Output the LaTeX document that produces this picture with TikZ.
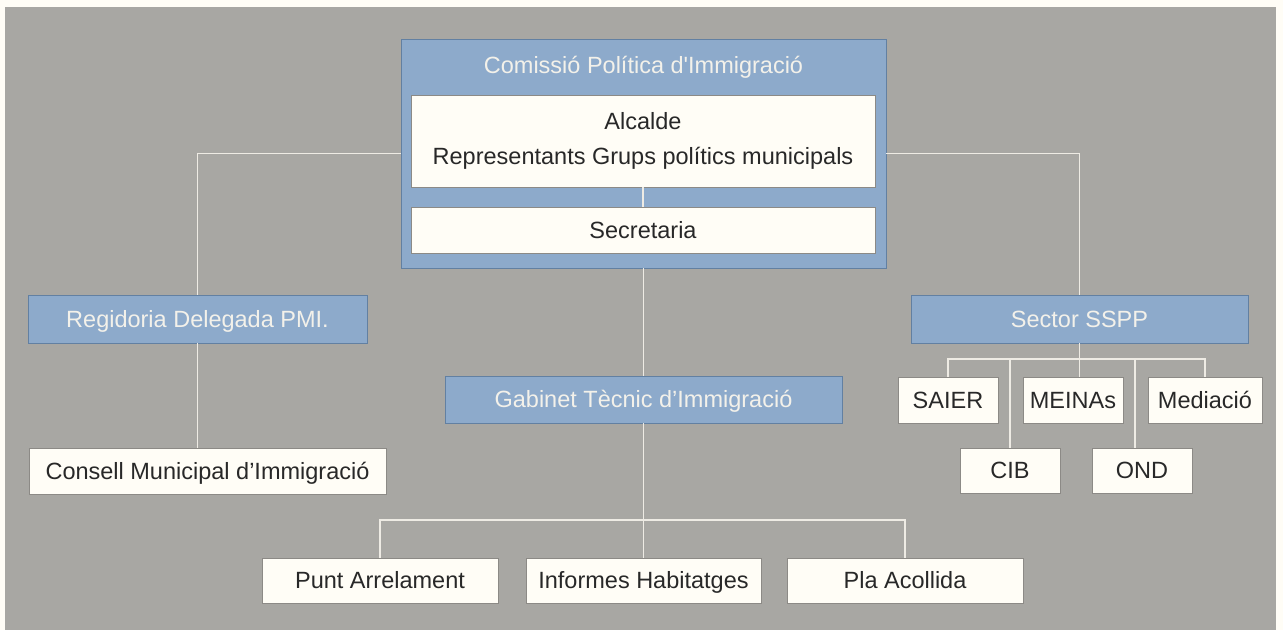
\documentclass[tikz,border=0pt]{standalone}
\usepackage{fontspec}
\setmainfont{Liberation Sans}[Ligatures=TeXOff]
\definecolor{bg}{RGB}{168,167,163}
\definecolor{paper}{RGB}{255,253,246}
\definecolor{bluef}{RGB}{141,170,203}
\definecolor{blued}{RGB}{98,128,162}
\definecolor{wline}{RGB}{238,235,228}
\definecolor{txt}{RGB}{40,40,40}
\definecolor{btxt}{RGB}{243,241,234}
\definecolor{wedge}{RGB}{140,138,134}
\begin{document}
\begin{tikzpicture}[x=1pt,y=-1pt,
  fnt/.style={font=\fontsize{23.5}{28}\selectfont},
  capc/.style={text height=16.8pt,text depth=0pt},
  bluebox/.style={rectangle,fill=bluef,draw=blued,line width=0.8pt,inner sep=0pt,text=btxt,fnt},
  whitebox/.style={rectangle,fill=paper,draw=wedge,line width=0.5pt,inner sep=0pt,text=txt,fnt},
  conn/.style={draw=wline,line width=1.5pt}]
\useasboundingbox (0,0) rectangle (1283,630);
\fill[paper] (0,0) rectangle (1283,630);
\fill[bg] (5,7) rectangle (1276,630);
\coordinate (bj) at (643,520);
\coordinate (sj) at (1079.5,359);
% boxes
\node[bluebox,minimum width=485pt,minimum height=229pt] (cpi) at (643.5,153.5) {};
\node[text=btxt,fnt,capc,inner sep=0pt] (title) at (643.5,65) {Comissió Política d'Immigració};
\node[whitebox,minimum width=464pt,minimum height=92pt,align=center,font=\fontsize{23.5}{35}\selectfont] (alc) at (643,141) {Alcalde\\Representants Grups polítics municipals};
\node[whitebox,capc,minimum width=464pt,minimum height=46pt] (secr) at (643,230) {Secretaria};
\node[bluebox,capc,minimum width=339pt,minimum height=48pt] (reg) at (197.5,319) {Regidoria Delegada PMI.};
\node[whitebox,capc,minimum width=357pt,minimum height=46pt] (cons) at (207.5,471) {Consell Municipal d’Immigració};
\node[bluebox,capc,minimum width=337pt,minimum height=48pt] (sect) at (1079.5,319) {Sector SSPP};
\node[whitebox,capc,minimum width=100pt,minimum height=46pt] (saier) at (948,400) {SAIER};
\node[whitebox,capc,minimum width=100pt,minimum height=46pt] (meinas) at (1073,400) {MEINAs};
\node[whitebox,capc,minimum width=114pt,minimum height=46pt] (med) at (1205,400) {Mediació};
\node[whitebox,capc,minimum width=100pt,minimum height=45pt] (cib) at (1010,470.5) {CIB};
\node[whitebox,capc,minimum width=100pt,minimum height=45pt] (ond) at (1142,470.5) {OND};
\node[bluebox,capc,minimum width=397pt,minimum height=47pt] (gab) at (643.5,399.5) {Gabinet Tècnic d’Immigració};
\node[whitebox,capc,minimum width=236pt,minimum height=45pt] (punt) at (380,580.5) {Punt Arrelament};
\node[whitebox,capc,minimum width=235pt,minimum height=45pt] (inf) at (643.5,580.5) {Informes Habitatges};
\node[whitebox,capc,minimum width=236pt,minimum height=45pt] (pla) at (905,580.5) {Pla Acollida};
% connectors
\draw[conn] (cpi.west) -| (reg.north);
\draw[conn] (cpi.east) -| (sect.north);
\draw[conn] (reg.south) -- (reg.south |- cons.north);
\draw[conn] (alc.south) -- (secr.north);
\draw[conn] (cpi.south) -- (gab.north);
\draw[conn] (gab.south) -- (inf.north);
\draw[conn] (punt.north) |- (bj) -| (pla.north);
\draw[conn] (saier.north) |- (sj) -| (med.north);
\draw[conn] (sect.south) -- (sect.south |- meinas.north);
\draw[conn] (cib.north) -- (cib.north |- sj);
\draw[conn] ([xshift=-7pt]ond.north) -- ([xshift=-7pt]ond.north |- sj);
\end{tikzpicture}
\end{document}
